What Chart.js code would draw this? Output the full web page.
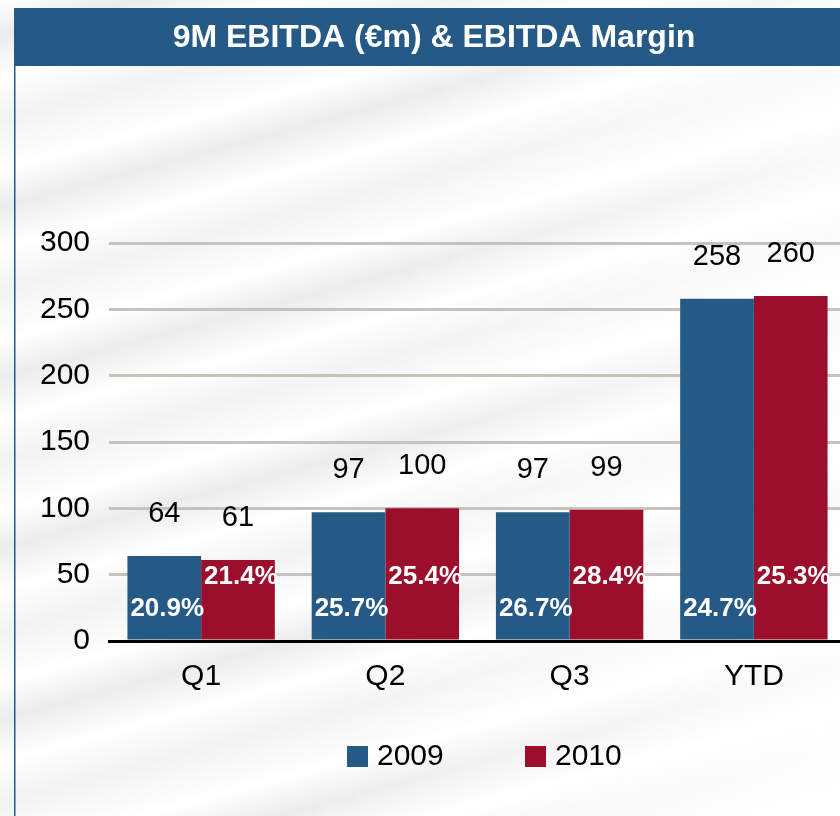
<!DOCTYPE html>
<html>
<head>
<meta charset="utf-8">
<script src="https://cdn.jsdelivr.net/npm/chart.js@4.4.0/dist/chart.umd.min.js"></script>
<style>
  html, body { margin: 0; padding: 0; overflow: hidden; }
  body {
    width: 840px; height: 816px;
    background-color: #fff;
    background-image:
      linear-gradient(100deg, rgba(255,255,255,0) 0%, rgba(255,255,255,0) 45%, rgba(255,255,255,0.85) 100%),
      repeating-linear-gradient(165deg, #fff 0px, #ececec 35px, #fff 75px, #f3f3f3 115px, #fff 165px);
  }
  #wrap { position: absolute; left: 0; top: 0; width: 850px; height: 816px; }
</style>
</head>
<body>
<div id="wrap"><canvas id="chart"></canvas></div>
<script>
const quarters = ['Q1', 'Q2', 'Q3', 'YTD'];
const years = ['2009', '2010'];
const ebitda2009 = [64, 97, 97, 258];
const ebitda2010 = [61, 100, 99, 260];
const margin2009 = [20.9, 25.7, 26.7, 24.7];
const margin2010 = [21.4, 25.4, 28.4, 25.3];

const BLUE = '#255a87';
const RED = '#9b0f2d';
const FONT = '"Liberation Sans", Arial, sans-serif';

const decor = {
  id: 'decor',
  beforeDraw(chart) {
    const c = chart.ctx;
    c.save();
    c.fillStyle = BLUE;
    c.fillRect(14, 8, 840, 58);
    c.fillRect(14, 66, 1.5, 760);
    c.fillStyle = '#fff';
    c.font = 'bold 32px ' + FONT;
    c.textAlign = 'center';
    c.textBaseline = 'middle';
    c.fillText('9M EBITDA (€m) & EBITDA Margin', 434, 38);
    c.restore();
  },
  afterDatasetsDraw(chart) {
    const c = chart.ctx;
    const base = chart.scales.y.getPixelForValue(0);
    const margins = [margin2009, margin2010];
    const lift = [32, 64];
    c.save();
    c.textAlign = 'center';
    c.textBaseline = 'middle';
    chart.data.datasets.forEach((ds, i) => {
      chart.getDatasetMeta(i).data.forEach((bar, j) => {
        c.fillStyle = '#000';
        c.font = '29px ' + FONT;
        c.fillText(String(ds.data[j]), bar.x, bar.y - 42);
        c.fillStyle = '#fff';
        c.font = 'bold 26px ' + FONT;
        c.fillText(margins[i][j].toFixed(1) + '%', bar.x + 3, base - lift[i]);
      });
    });
    c.restore();
  },
  afterDraw(chart) {
    const c = chart.ctx;
    const cy = 757;
    let x = 347;
    c.save();
    c.font = '30px ' + FONT;
    c.textBaseline = 'middle';
    c.textAlign = 'left';
    chart.data.datasets.forEach((ds) => {
      c.fillStyle = ds.backgroundColor;
      c.fillRect(x, cy - 11, 21, 21);
      c.fillStyle = '#000';
      c.fillText(ds.label, x + 30, cy);
      x += 178;
    });
    c.restore();
  }
};

new Chart(document.getElementById('chart'), {
  type: 'bar',
  data: {
    labels: quarters,
    datasets: [
      { label: years[0], data: ebitda2009, backgroundColor: BLUE },
      { label: years[1], data: ebitda2010, backgroundColor: RED }
    ]
  },
  options: {
    responsive: true,
    maintainAspectRatio: false,
    animation: false,
    layout: { padding: { top: 243, right: 4, left: 0, bottom: 0 } },
    datasets: { bar: { categoryPercentage: 0.8, barPercentage: 1.0 } },
    plugins: { legend: { display: false }, tooltip: { enabled: false } },
    scales: {
      x: {
        grid: { display: false, drawTicks: false },
        border: { display: true, color: '#000', width: 3, z: 1 },
        ticks: { color: '#000', font: { family: FONT, size: 30 }, padding: 18 },
        afterFit(scale) { scale.height = 816 - 641; }
      },
      y: {
        min: 0,
        max: 300,
        grid: { color: '#c9c2bb', lineWidth: 3, drawTicks: false },
        border: { display: false },
        ticks: { stepSize: 50, color: '#000', font: { family: FONT, size: 30 }, padding: 19 },
        afterFit(scale) { scale.width = 109; }
      }
    }
  },
  plugins: [decor]
});
</script>
</body>
</html>
